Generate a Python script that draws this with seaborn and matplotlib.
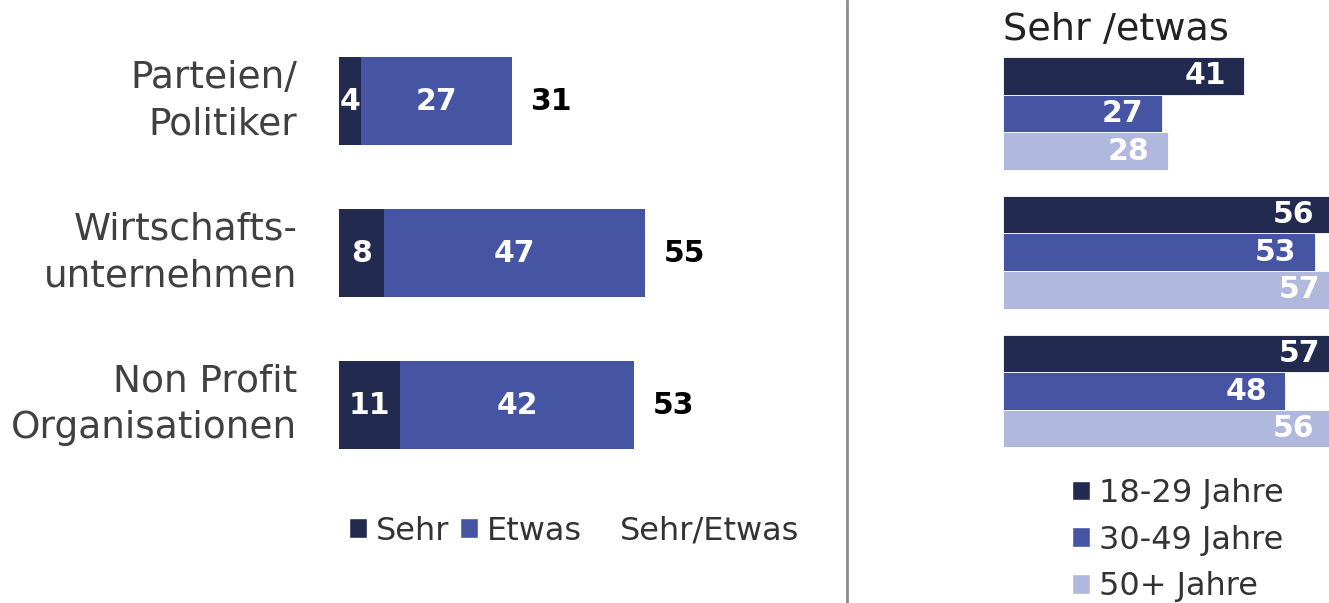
import numpy as np
import pandas as pd
import matplotlib
matplotlib.use('Agg')
import matplotlib.pyplot as plt
import seaborn as sns
from matplotlib.patches import Patch
from matplotlib.lines import Line2D

# data
categories = ['Parteien/\nPolitiker', 'Wirtschafts-\nunternehmen', 'Non Profit\nOrganisationen']
sehr = [4, 8, 11]
etwas = [27, 47, 42]
sehr_etwas = [31, 55, 53]

age_groups = ['18-29 Jahre', '30-49 Jahre', '50+ Jahre']
age_18_29 = [41, 56, 57]
age_30_49 = [27, 53, 48]
age_50plus = [28, 57, 56]

DARK = '#222a50'
MID = '#4654a4'
LIGHT = '#b0b8de'
TXT = '#404040'

sns.set_style('white')
plt.rcParams['font.family'] = ['DejaVu Sans']

fig = plt.figure(figsize=(13.29, 6.03), dpi=100)

# ---- left panel: stacked bars ----
ax = fig.add_axes([339 / 1329, 0.2023, 390 / 1329, 0.7562])
left_df = pd.DataFrame({'cat': categories, 'sehr': sehr, 'etwas': etwas, 'total': sehr_etwas})
sns.barplot(data=left_df, y='cat', x='total', color=MID, width=0.58, orient='h',
            saturation=1, linewidth=0, ax=ax)
sns.barplot(data=left_df, y='cat', x='sehr', color=DARK, width=0.58, orient='h',
            saturation=1, linewidth=0, ax=ax)
ax.set_xlim(0, 70)
ax.set_ylim(2.5, -0.5)
ax.set_xlabel('')
ax.set_ylabel('')
ax.set_xticks([])
ax.tick_params(axis='y', length=0, pad=30, labelsize=27, labelcolor=TXT)
for lbl in ax.get_yticklabels():
    lbl.set_horizontalalignment('right')
    lbl.set_verticalalignment('center')
    lbl.set_linespacing(1.38)
for s in ax.spines.values():
    s.set_visible(False)

total_bars, sehr_bars = ax.containers[0], ax.containers[1]
for tb, sb, e in zip(total_bars, sehr_bars, etwas):
    yc = sb.get_y() + sb.get_height() / 2
    sw = sb.get_width()
    tw = tb.get_width()
    ax.text(sw / 2, yc, f'{sw:.0f}', ha='center', va='center', color='white',
            fontsize=21.5, fontweight='bold')
    ax.text(sw + e / 2, yc, f'{e}', ha='center', va='center', color='white',
            fontsize=21.5, fontweight='bold')
    ax.annotate(f'{tw:.0f}', (tw, yc), xytext=(13, 0), textcoords='offset points',
                ha='left', va='center', color='black', fontsize=21.5, fontweight='bold')

left_handles = [Patch(facecolor=DARK), Patch(facecolor=MID),
                Patch(facecolor='none', edgecolor='none')]
fig.legend(left_handles, ['Sehr', 'Etwas', 'Sehr/Etwas'], ncol=3, frameon=False,
           loc='center left', bbox_to_anchor=(349 / 1329, 1 - 531 / 603),
           fontsize=23, handlelength=0.56, handleheight=0.56, handletextpad=0.28,
           columnspacing=0.34, borderpad=0, borderaxespad=0, labelcolor='#333333')

# ---- divider ----
fig.add_artist(Line2D([847 / 1329, 847 / 1329], [0, 1], transform=fig.transFigure,
                      color='#8c8c8c', lw=2))

# ---- right panel: grouped by age ----
ax2 = fig.add_axes([1003 / 1329, 0.2365, 352.8 / 1329, 0.6904])
right_df = pd.DataFrame({
    'cat': categories * 3,
    'age': np.repeat(age_groups, 3),
    'value': age_18_29 + age_30_49 + age_50plus,
})
sns.barplot(data=right_df, y='cat', x='value', hue='age', orient='h',
            palette=[DARK, MID, LIGHT], width=0.813, saturation=1, legend=False,
            edgecolor='white', linewidth=0.6, ax=ax2)
ax2.set_xlim(0, 60)
ax2.set_ylim(2.5, -0.5)
ax2.set_xlabel('')
ax2.set_ylabel('')
ax2.set_xticks([])
ax2.set_yticks([])
for s in ax2.spines.values():
    s.set_visible(False)
for cont in ax2.containers:
    for b in cont:
        w = b.get_width()
        yc = b.get_y() + b.get_height() / 2
        ax2.annotate(f'{w:.0f}', (w, yc), xytext=(-13, 0), textcoords='offset points',
                     ha='right', va='center', color='white', fontsize=21.5,
                     fontweight='bold')

fig.text(1003 / 1329, 1 - 30 / 603, 'Sehr /etwas', ha='left', va='center',
         fontsize=27.5, color='#222222')

right_handles = [Patch(facecolor=c) for c in [DARK, MID, LIGHT]]
fig.legend(right_handles, age_groups, ncol=1, frameon=False,
           loc='center left', bbox_to_anchor=(1072 / 1329, 1 - 540 / 603),
           fontsize=23, handlelength=0.56, handleheight=0.56, handletextpad=0.28,
           labelspacing=0.5, borderpad=0, borderaxespad=0, labelcolor='#333333')

fig.savefig('out.png', dpi=100)
